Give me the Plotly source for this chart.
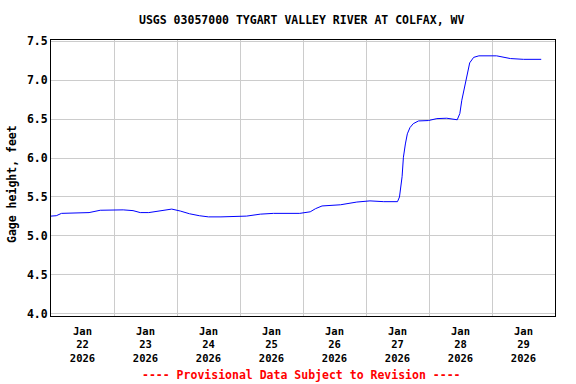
import plotly.graph_objects as go

times = [
    "2026-01-22 00:00", "2026-01-22 02:00", "2026-01-22 04:00", "2026-01-22 09:30",
    "2026-01-22 14:30", "2026-01-22 18:45", "2026-01-23 00:00", "2026-01-23 03:30",
    "2026-01-23 07:15", "2026-01-23 10:00", "2026-01-23 13:15", "2026-01-23 16:45",
    "2026-01-23 22:00", "2026-01-24 01:15", "2026-01-24 04:45", "2026-01-24 08:30",
    "2026-01-24 12:00", "2026-01-24 16:45", "2026-01-25 02:30", "2026-01-25 07:45",
    "2026-01-25 12:45", "2026-01-25 22:45", "2026-01-26 02:45", "2026-01-26 04:45",
    "2026-01-26 07:15", "2026-01-26 14:15", "2026-01-26 20:30", "2026-01-27 01:30",
    "2026-01-27 06:45", "2026-01-27 12:00", "2026-01-27 12:45", "2026-01-27 13:45",
    "2026-01-27 14:15", "2026-01-27 15:00", "2026-01-27 15:45", "2026-01-27 16:45",
    "2026-01-27 18:00", "2026-01-27 20:00", "2026-01-27 23:45", "2026-01-28 03:00",
    "2026-01-28 06:45", "2026-01-28 10:45", "2026-01-28 11:45", "2026-01-28 12:30",
    "2026-01-28 13:30", "2026-01-28 14:15", "2026-01-28 15:00", "2026-01-28 15:30",
    "2026-01-28 17:00", "2026-01-28 19:00", "2026-01-29 01:45", "2026-01-29 03:30",
    "2026-01-29 07:00", "2026-01-29 12:00", "2026-01-29 18:45",
]
gage_ft = [
    5.255, 5.26, 5.29, 5.295,
    5.30, 5.33, 5.335, 5.335,
    5.325, 5.30, 5.30, 5.32,
    5.345, 5.32, 5.285, 5.26,
    5.245, 5.245, 5.255, 5.28,
    5.29, 5.29, 5.31, 5.35,
    5.385, 5.40, 5.435, 5.45,
    5.44, 5.44, 5.50, 5.76,
    6.01, 6.18, 6.31, 6.39,
    6.44, 6.475, 6.48, 6.505,
    6.51, 6.49, 6.57, 6.74,
    6.91, 7.04, 7.125, 7.22,
    7.29, 7.31, 7.31, 7.30,
    7.275, 7.265, 7.265,
]
tick_dates = ["2026-01-22 12:00", "2026-01-23 12:00", "2026-01-24 12:00", "2026-01-25 12:00",
              "2026-01-26 12:00", "2026-01-27 12:00", "2026-01-28 12:00", "2026-01-29 12:00"]
tick_labels = ["Jan<br>22<br>2026", "Jan<br>23<br>2026", "Jan<br>24<br>2026", "Jan<br>25<br>2026",
               "Jan<br>26<br>2026", "Jan<br>27<br>2026", "Jan<br>28<br>2026", "Jan<br>29<br>2026"]
y_ticks = [4.0, 4.5, 5.0, 5.5, 6.0, 6.5, 7.0, 7.5]

FONT = "DejaVu Sans Mono"
W, H = 576, 384
L, R, T, B = 51, 21, 40, 68
PW, PH = W - L - R, H - T - B


def px_to_paper(px, py):
    return (px - L) / PW, (H - B - py) / PH


tx, ty = px_to_paper(301, 20)
fx, fy = px_to_paper(301, 375)
yx, yy = px_to_paper(12, 184)

fig = go.Figure(go.Scatter(x=times, y=gage_ft, mode="lines",
                           line=dict(color="#0000ff", width=1)))

fig.update_layout(
    width=W, height=H,
    margin=dict(l=L, r=R, t=T, b=B),
    paper_bgcolor="white", plot_bgcolor="white",
    showlegend=False,
    font=dict(family=FONT, color="black", size=11),
    annotations=[
        dict(text="<b>USGS 03057000 TYGART VALLEY RIVER AT COLFAX, WV</b>",
             x=tx, y=ty, xref="paper", yref="paper",
             xanchor="center", yanchor="middle", showarrow=False,
             font=dict(family=FONT, size=11.5, color="black")),
        dict(text="<b>---- Provisional Data Subject to Revision ----</b>",
             x=fx, y=fy, xref="paper", yref="paper",
             xanchor="center", yanchor="middle", showarrow=False,
             font=dict(family=FONT, size=11.5, color="red")),
        dict(text="<b>Gage height, feet</b>", textangle=-90,
             x=yx, y=yy, xref="paper", yref="paper",
             xanchor="center", yanchor="middle", showarrow=False,
             font=dict(family=FONT, size=11.5, color="black")),
    ],
)

fig.update_xaxes(
    range=["2026-01-22 00:00", "2026-01-30 00:00"],
    tickmode="array", tickvals=tick_dates,
    ticktext=["<b>" + t.replace("<br>", "</b><br><b>") + "</b>" for t in tick_labels],
    ticks="", showgrid=False, ticklabelstandoff=5,
    minor=dict(tick0="2026-01-22", dtick=86400000, showgrid=True, gridcolor="#cccccc",
               gridwidth=1, ticks=""),
    showline=True, linecolor="black", linewidth=1, mirror=True,
    tickfont=dict(family=FONT, size=10.5),
    zeroline=False,
)
fig.update_yaxes(
    range=[3.974, 7.513],
    tickmode="array", tickvals=y_ticks, ticktext=["<b>%.1f</b>" % v for v in y_ticks],
    showgrid=True, gridcolor="#cccccc", gridwidth=1,
    showline=True, linecolor="black", linewidth=1, mirror=True,
    ticks="",
    tickfont=dict(family=FONT, size=11.5),
    zeroline=False,
)

fig.write_html("out.html", config={"displayModeBar": False},
               post_script="document.body.style.margin='0';document.body.style.overflow='hidden';")
